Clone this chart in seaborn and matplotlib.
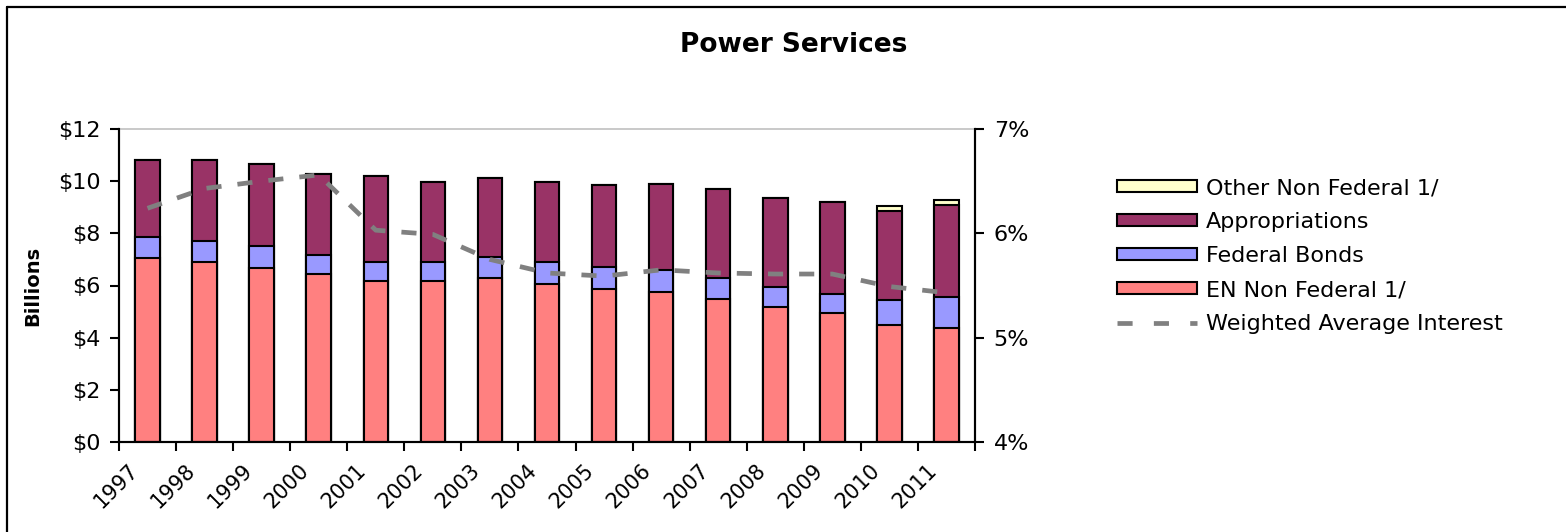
import numpy as np
import pandas as pd
import matplotlib
matplotlib.use("Agg")
import matplotlib.pyplot as plt
import matplotlib.transforms as mtransforms
from matplotlib.patches import Patch
from matplotlib.lines import Line2D
import seaborn as sns

years = [str(y) for y in range(1997, 2012)]
en_non_federal = [7.04, 6.92, 6.67, 6.43, 6.16, 6.16, 6.29, 6.06, 5.87, 5.74, 5.48, 5.17, 4.93, 4.50, 4.38]
federal_bonds = [0.81, 0.80, 0.86, 0.74, 0.76, 0.76, 0.82, 0.86, 0.85, 0.86, 0.81, 0.76, 0.76, 0.93, 1.18]
appropriations = [2.97, 3.10, 3.13, 3.10, 3.29, 3.04, 3.03, 3.04, 3.12, 3.31, 3.42, 3.41, 3.53, 3.41, 3.53]
other_non_federal = [0, 0, 0, 0, 0, 0, 0, 0, 0, 0, 0, 0, 0, 0.19, 0.18]
weighted_interest = [6.24, 6.43, 6.50, 6.56, 6.03, 5.99, 5.75, 5.62, 5.59, 5.65, 5.62, 5.61, 5.61, 5.49, 5.43]

c_en = "#FF8080"
c_fed = "#9999FF"
c_app = "#993366"
c_other = "#FFFFCC"
c_line = "#808080"

sns.set_theme(style="white")
plt.rcParams["font.family"] = ["DejaVu Sans"]
plt.rcParams["text.color"] = "black"
plt.rcParams["axes.labelcolor"] = "black"

df = pd.DataFrame({
    "year": years,
    "en": en_non_federal,
    "fed": federal_bonds,
    "app": appropriations,
    "other": other_non_federal,
    "rate": weighted_interest,
})
df["cum1"] = df["en"]
df["cum2"] = df["cum1"] + df["fed"]
df["cum3"] = df["cum2"] + df["app"]
df["cum4"] = df["cum3"] + df["other"]

fig = plt.figure(figsize=(15.66, 5.32), dpi=100)
ax = fig.add_axes([119 / 1566, 1 - 442 / 532, (975 - 119) / 1566, (442 - 129) / 532])

# stacked bars drawn from the tallest total down
for col, color in [("cum4", c_other), ("cum3", c_app), ("cum2", c_fed), ("cum1", c_en)]:
    sns.barplot(data=df, x="year", y=col, color=color, saturation=1, width=0.43,
                edgecolor="black", linewidth=1.5, ax=ax, errorbar=None)

ax.set_ylim(0, 12)
ax.set_xlim(-0.5, len(years) - 0.5)
ax.set_yticks(range(0, 13, 2))
ax.set_yticklabels([f"${v}" for v in range(0, 13, 2)])
ax.set_xlabel("")
ax.set_ylabel("Billions", fontsize=14, fontweight="bold")
ax.yaxis.set_label_coords((42 - 119) / 856, 0.5)

ax.set_xticks(np.arange(len(years)))
ax.set_xticklabels(years, rotation=45, ha="right", va="top", rotation_mode="anchor")
ax.set_xticks(np.arange(len(years) + 1) - 0.5, minor=True)
ax.tick_params(axis="x", which="major", length=0, pad=13, labelsize=15, colors="black")
ax.tick_params(axis="x", which="minor", direction="out", length=6.5, width=1.5, color="black", bottom=True)
ax.tick_params(axis="y", direction="out", length=6.5, width=1.5, pad=7, labelsize=16, colors="black", left=True)
offset = mtransforms.ScaledTranslation(-20 / 100, 0, fig.dpi_scale_trans)
for lab in ax.get_xticklabels():
    lab.set_transform(lab.get_transform() + offset)

for side in ["left", "bottom", "right"]:
    ax.spines[side].set_color("black")
    ax.spines[side].set_linewidth(1.5)
ax.spines["top"].set_color("#C0C0C0")
ax.spines["top"].set_linewidth(1.2)

ax2 = ax.twinx()
sns.lineplot(x=np.arange(len(years)), y=df["rate"], color=c_line, linewidth=3.4,
             dashes=False, ax=ax2)
ax2.lines[0].set_dashes([3.2, 3.4])
ax2.set_ylim(4, 7)
ax2.set_yticks([4, 5, 6, 7])
ax2.set_yticklabels([f"{v}%" for v in [4, 5, 6, 7]])
ax2.set_ylabel("")
ax2.tick_params(axis="y", direction="out", length=6.5, width=1.5, pad=7, labelsize=16, colors="black", right=True)
for side in ["left", "bottom", "right"]:
    ax2.spines[side].set_color("black")
    ax2.spines[side].set_linewidth(1.5)
ax2.spines["top"].set_visible(False)
ax.set_xlim(-0.5, len(years) - 0.5)

fig.text(794 / 1566, 1 - 45 / 532, "Power Services", ha="center", va="center",
         fontsize=19, fontweight="bold", color="black")

handles = [
    Patch(facecolor=c_other, edgecolor="black", linewidth=1.5, label="Other Non Federal 1/"),
    Patch(facecolor=c_app, edgecolor="black", linewidth=1.5, label="Appropriations"),
    Patch(facecolor=c_fed, edgecolor="black", linewidth=1.5, label="Federal Bonds"),
    Patch(facecolor=c_en, edgecolor="black", linewidth=1.5, label="EN Non Federal 1/"),
    Line2D([], [], color=c_line, linewidth=3.4, dashes=[3.2, 4.5], label="Weighted Average Interest"),
]
fig.legend(handles=handles, loc="upper left", bbox_to_anchor=(1117 / 1566, 1 - 178 / 532),
           frameon=False, fontsize=16, handlelength=3.6, handleheight=0.5,
           handletextpad=0.4, labelspacing=0.63, borderpad=0, borderaxespad=0)

# chart frame (left and top edges visible)
fig.add_artist(Line2D([7 / 1566, 7 / 1566], [0, 1 - 7 / 532], color="black", linewidth=1.6,
                      transform=fig.transFigure))
fig.add_artist(Line2D([7 / 1566, 1], [1 - 7 / 532, 1 - 7 / 532], color="black", linewidth=1.6,
                      transform=fig.transFigure))

fig.savefig("out.png", dpi=100)
